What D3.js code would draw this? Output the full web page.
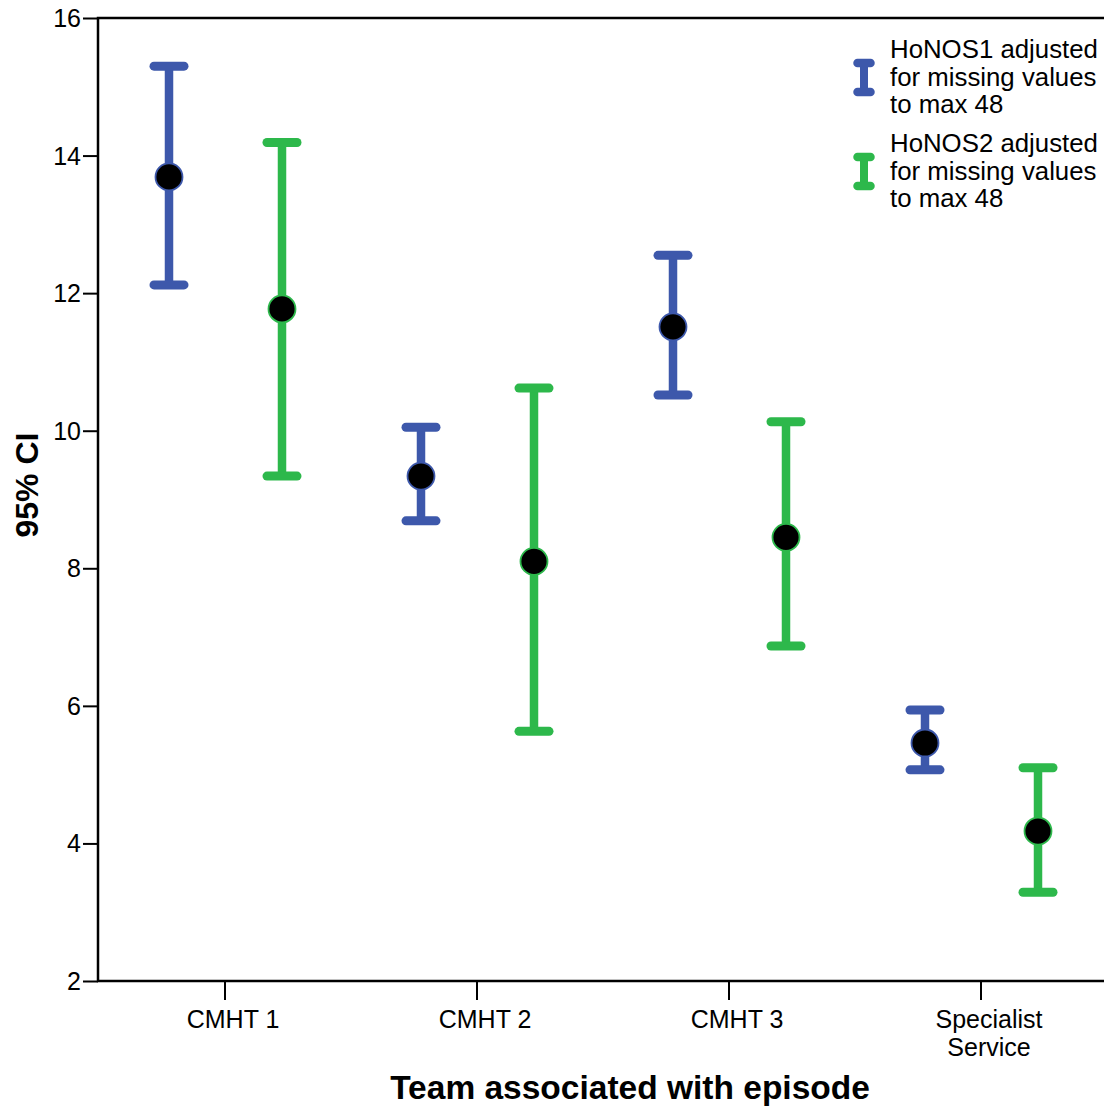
<!DOCTYPE html>
<html><head><meta charset="utf-8">
<script src="https://cdn.jsdelivr.net/npm/d3@7"></script>
<style>
body{margin:0;background:#fff;}
text{font-family:"Liberation Sans",Arial,sans-serif;fill:#000;}
</style></head>
<body><svg id="c" width="1104" height="1106"></svg>
<script>
const categories = ["CMHT 1","CMHT 2","CMHT 3","Specialist Service"];
const legendLines = [["HoNOS1 adjusted","for missing values","to max 48"],["HoNOS2 adjusted","for missing values","to max 48"]];
const honos1Mean  = [13.69, 9.34, 11.51, 5.46];
const honos1Lower = [12.12, 8.69, 10.52, 5.07];
const honos1Upper = [15.30, 10.05, 12.55, 5.94];
const honos2Mean  = [11.77, 8.10, 8.45, 4.18];
const honos2Lower = [9.34, 5.63, 6.87, 3.29];
const honos2Upper = [14.19, 10.62, 10.13, 5.10];
const yTicks = [2,4,6,8,10,12,14,16];
const colors = ["#3d58ab","#2db84b"];

const svg = d3.select("#c");
const L=98, T=18, R=1106, B=981;
const x = d3.scaleBand().domain(categories).range([L+1,R+1]);
const y = d3.scaleLinear().domain([2,16]).range([B,T]);
const off = d3.scalePoint().domain([0,1]).range([-56,57]);

// frame
svg.append("rect").attr("x",L).attr("y",T).attr("width",R-L).attr("height",B-T)
  .attr("fill","none").attr("stroke","#000").attr("stroke-width",2.5);

// y axis
const ya = svg.append("g").attr("transform",`translate(${L},0)`)
  .call(d3.axisLeft(y).tickValues(yTicks).tickSize(15).tickPadding(2).tickFormat(d3.format("d")));
ya.select(".domain").remove();
ya.selectAll("line").attr("stroke","#000").attr("stroke-width",2);
ya.selectAll("text").attr("font-size",25).attr("font-family","Liberation Sans, Arial, sans-serif").attr("dy","0.34em");

// x axis
const xa = svg.append("g").attr("transform",`translate(0,${B})`)
  .call(d3.axisBottom(x).tickSize(19).tickFormat(""));
xa.select(".domain").remove();
xa.selectAll("line").attr("stroke","#000").attr("stroke-width",2);
xa.selectAll(".tick").each(function(d){
  const words = d==="Specialist Service" ? ["Specialist","Service"] : [d];
  const t = d3.select(this).append("text").attr("text-anchor","middle")
    .attr("font-size",25).attr("font-family","Liberation Sans, Arial, sans-serif").attr("fill","#000");
  words.forEach((w,i)=>t.append("tspan").attr("x",8).attr("y",47+i*28).text(w));
});

// axis titles
svg.append("text").attr("x",630).attr("y",1099).attr("text-anchor","middle")
  .attr("font-size",33.5).attr("font-weight","bold").text("Team associated with episode");
svg.append("text").attr("transform","translate(38,485) rotate(-90)").attr("text-anchor","middle")
  .attr("font-size",32).attr("font-weight","bold").text("95% CI");

// error bars
const series = [
  {mean:honos1Mean, lo:honos1Lower, hi:honos1Upper},
  {mean:honos2Mean, lo:honos2Lower, hi:honos2Upper}
];
const capHalf = 15;
series.forEach((s,si)=>{
  const g = svg.append("g");
  categories.forEach((c,i)=>{
    const cx = x(c)+x.bandwidth()/2+off(si);
    g.append("line").attr("x1",cx).attr("x2",cx).attr("y1",y(s.hi[i])).attr("y2",y(s.lo[i]))
      .attr("stroke",colors[si]).attr("stroke-width",8.5);
    [s.hi[i],s.lo[i]].forEach(v=>{
      g.append("line").attr("x1",cx-capHalf).attr("x2",cx+capHalf).attr("y1",y(v)).attr("y2",y(v))
        .attr("stroke",colors[si]).attr("stroke-width",9).attr("stroke-linecap","round");
    });
    g.append("circle").attr("cx",cx).attr("cy",y(s.mean[i])).attr("r",13.5)
      .attr("fill","#000").attr("stroke",colors[si]).attr("stroke-width",1.8);
  });
});

// legend
const lg = svg.append("g");
legendLines.forEach((lines,si)=>{
  const y0 = 63 + si*94, y1 = y0 + 29, lx = 864;
  lg.append("line").attr("x1",lx).attr("x2",lx).attr("y1",y0).attr("y2",y1)
    .attr("stroke",colors[si]).attr("stroke-width",8);
  [y0,y1].forEach(yy=>lg.append("line").attr("x1",lx-6.5).attr("x2",lx+6.5).attr("y1",yy).attr("y2",yy)
    .attr("stroke",colors[si]).attr("stroke-width",8.5).attr("stroke-linecap","round"));
  lines.forEach((t,k)=>lg.append("text").attr("x",890).attr("y",58+si*94+k*27.5)
    .attr("font-size",25.8).text(t));
});
</script>
</body></html>
